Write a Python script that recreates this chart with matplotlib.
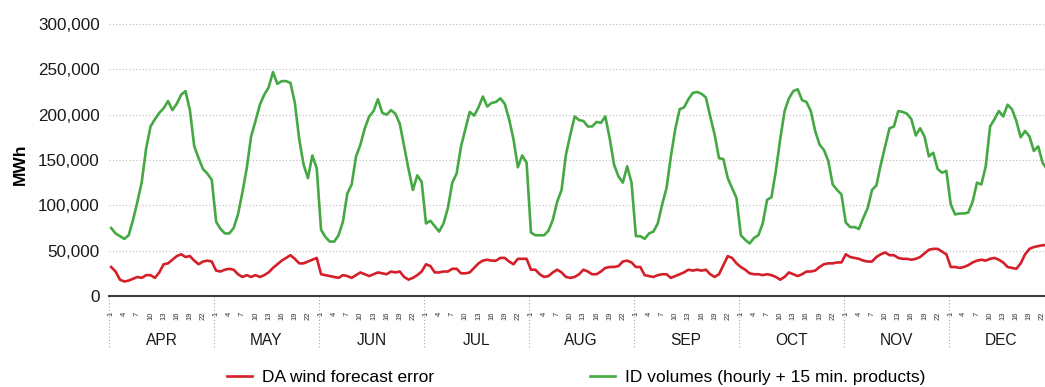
import matplotlib.pyplot as plt
import numpy as np
from matplotlib.ticker import FuncFormatter
from matplotlib.transforms import blended_transform_factory

plt.rcParams['font.family'] = 'Liberation Sans'

months = ['APR', 'MAY', 'JUN', 'JUL', 'AUG', 'SEP', 'OCT', 'NOV', 'DEC']
hour_ticks = [1, 4, 7, 10, 13, 16, 19, 22]

# average hourly profile per month, thousand MWh (hours 1..24)
id_volumes = [
    75, 69, 66, 63, 67, 84, 104, 126, 163, 187, 195, 202, 207, 215, 205, 212, 222, 226, 205, 165, 152, 140, 135, 128,  # APR
    82, 74, 69, 69, 75, 90, 114, 141, 176, 193, 211, 222, 230, 247, 234, 237, 237, 235, 213, 173, 145, 130, 155, 141,  # MAY
    73, 65, 60, 60, 67, 82, 113, 123, 154, 167, 185, 198, 204, 217, 202, 200, 205, 201, 190, 165, 140, 117, 133, 126,  # JUN
    80, 83, 77, 71, 80, 97, 125, 135, 165, 184, 203, 199, 208, 220, 209, 213, 214, 218, 212, 195, 173, 142, 155, 147,  # JUL
    70, 67, 67, 67, 72, 84, 104, 117, 156, 178, 198, 194, 193, 187, 187, 192, 191, 198, 174, 145, 132, 125, 143, 125,  # AUG
    66, 66, 63, 69, 71, 80, 101, 119, 154, 184, 206, 208, 217, 224, 225, 223, 219, 198, 178, 152, 151, 130, 119, 108,  # SEP
    67, 62, 58, 64, 67, 80, 106, 109, 138, 173, 204, 218, 226, 228, 216, 214, 204, 182, 167, 161, 149, 123, 117, 112,  # OCT
    81, 76, 76, 74, 86, 97, 117, 122, 145, 165, 185, 187, 204, 203, 201, 195, 177, 185, 176, 154, 158, 140, 136, 138,  # NOV
    101, 90, 91, 91, 92, 104, 125, 123, 143, 187, 195, 204, 198, 211, 206, 193, 175, 182, 176, 160, 165, 147, 140, 135,  # DEC
]
wind_error = [
    32, 27, 18, 16, 17, 19, 21, 20, 23, 23, 20, 26, 35, 36, 40, 44, 46, 43, 44, 39, 35, 38, 39, 38,  # APR
    28, 27, 29, 30, 29, 24, 21, 23, 21, 23, 21, 23, 26, 31, 35, 39, 42, 45, 41, 36, 36, 38, 40, 42,  # MAY
    24, 23, 22, 21, 20, 23, 22, 20, 23, 26, 24, 22, 24, 26, 25, 24, 27, 26, 27, 21, 18, 20, 23, 27,  # JUN
    35, 33, 26, 26, 27, 27, 30, 30, 25, 25, 26, 31, 36, 39, 40, 39, 39, 42, 42, 38, 35, 41, 41, 41,  # JUL
    29, 29, 24, 21, 22, 26, 29, 26, 21, 20, 21, 24, 29, 27, 24, 24, 27, 31, 32, 32, 33, 38, 39, 37,  # AUG
    32, 32, 23, 22, 21, 23, 24, 24, 20, 22, 24, 26, 29, 28, 29, 28, 29, 24, 21, 24, 34, 44, 42, 36,  # SEP
    32, 29, 25, 24, 24, 23, 24, 23, 21, 18, 21, 26, 24, 22, 24, 27, 27, 28, 32, 35, 36, 36, 37, 37,  # OCT
    46, 43, 42, 41, 39, 38, 38, 43, 46, 48, 45, 45, 42, 41, 41, 40, 41, 43, 47, 51, 52, 52, 49, 46,  # NOV
    32, 32, 31, 32, 34, 37, 39, 40, 39, 41, 42, 40, 37, 32, 31, 30, 36, 46, 52, 54, 55, 56, 56, 56,  # DEC
]

red = '#d41f28'
green = '#45a843'
W, H = 1045, 387

fig = plt.figure(figsize=(W / 100, H / 100), dpi=100)
# plot area runs a bit past the right edge of the figure
ax = fig.add_axes([109 / W, 91 / H, 944.5 / W, 272 / H])

x = np.arange(len(id_volumes))
ax.plot(x, np.array(wind_error) * 1000, color=red, lw=1.9, label='DA wind forecast error')
ax.plot(x, np.array(id_volumes) * 1000, color=green, lw=1.9,
        label='ID volumes (hourly + 15 min. products)')

ax.set_xlim(-0.5, len(months) * 24 - 0.5)
ax.set_ylim(0, 300000)
ax.set_yticks(np.arange(0, 300001, 50000))
ax.yaxis.set_major_formatter(FuncFormatter(lambda v, p: f'{v:,.0f}'))
ax.yaxis.grid(True, linestyle=(0, (1, 2)), color='#bdbdbd', lw=0.8)
ax.set_axisbelow(True)
for s in ['left', 'top', 'right']:
    ax.spines[s].set_visible(False)
ax.spines['bottom'].set_color('#404040')
ax.spines['bottom'].set_linewidth(1.5)
ax.tick_params(axis='y', length=0, pad=6.5, labelsize=12.3, colors='#1a1a1a')

# hour ticks inside every month
pos, labs = [], []
for m in range(len(months)):
    for h in hour_ticks:
        pos.append(m * 24 + h - 1)
        labs.append(str(h))
ax.set_xticks(pos)
ax.set_xticklabels(labs, rotation=90, fontsize=5.5, color='#333333')
ax.tick_params(axis='x', length=0, pad=11)

trans = blended_transform_factory(ax.transData, ax.transAxes)
for m in range(len(months) + 1):
    ax.plot([m * 24 - 0.5] * 2, [0, -0.19], transform=trans, clip_on=False,
            color='#a8a8a8', ls=(0, (1, 2)), lw=0.8)
for m, name in enumerate(months):
    ax.text(m * 24 + 11.5, -0.165, name, transform=trans, ha='center', va='center',
            fontsize=11.2, color='#1a1a1a')

fig.text(20 / W, 1 - 164 / H, 'MWh', rotation=90, fontweight='bold', fontsize=12.5,
         ha='center', va='center')

fig.legend(loc='center', bbox_to_anchor=(576 / W, 10 / H), ncol=2, frameon=False,
           fontsize=12.5, handlelength=1.45, handletextpad=0.55, columnspacing=9.0)

fig.savefig('out.png', dpi=100)
